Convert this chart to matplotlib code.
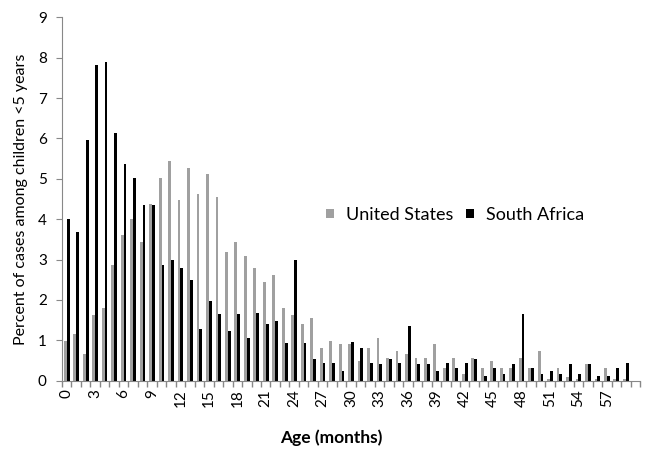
import numpy as np
import matplotlib
matplotlib.use('Agg')
import matplotlib.pyplot as plt

plt.rcParams['font.family'] = ['Lato', 'DejaVu Sans']

# age in months (0-59)
ages = np.arange(60)

us_pct = [0.99, 1.15, 0.65, 1.63, 1.79, 2.86, 3.60, 4.01, 3.43, 4.37,
          5.03, 5.43, 4.47, 5.27, 4.63, 5.12, 4.54, 3.19, 3.43, 3.10,
          2.78, 2.45, 2.62, 1.79, 1.63, 1.40, 1.56, 0.82, 0.99, 0.90,
          0.90, 0.49, 0.82, 1.06, 0.57, 0.74, 0.65, 0.57, 0.57, 0.90,
          0.32, 0.57, 0.16, 0.57, 0.32, 0.49, 0.32, 0.32, 0.57, 0.32,
          0.74, 0.03, 0.32, 0.08, 0.03, 0.41, 0.03, 0.32, 0.03, 0.03]

sa_pct = [4.01, 3.68, 5.95, 7.81, 7.90, 6.13, 5.36, 5.03, 4.34, 4.34,
          2.86, 2.99, 2.79, 2.49, 1.27, 1.97, 1.64, 1.23, 1.64, 1.06,
          1.68, 1.40, 1.48, 0.94, 2.99, 0.94, 0.54, 0.45, 0.45, 0.25,
          0.95, 0.82, 0.45, 0.41, 0.54, 0.45, 1.35, 0.41, 0.41, 0.24,
          0.45, 0.32, 0.45, 0.53, 0.12, 0.32, 0.17, 0.41, 1.64, 0.32,
          0.16, 0.24, 0.16, 0.41, 0.16, 0.41, 0.12, 0.12, 0.32, 0.45]

label_ages = list(range(0, 58, 3))

fig = plt.figure(figsize=(6.48, 4.53), dpi=100)
ax = fig.add_axes([0.0957, 0.1596, 0.8920, 0.8022])

w = 0.3
ax.bar(ages - w / 2, us_pct, width=w, color='#a0a0a0', label='United States')
ax.bar(ages + w / 2, sa_pct, width=w, color='#000000', label='South Africa')

ax.set_xlim(-0.5, 60.5)
ax.set_ylim(0, 9)
ax.set_yticks(range(0, 10))

ax.set_xticks(label_ages)
ax.set_xticklabels([str(a) for a in label_ages], rotation=90, fontsize=11)
ax.set_xticks(np.arange(-0.5, 61, 1), minor=True)
ax.tick_params(axis='x', which='major', length=0, pad=6)
ax.tick_params(axis='x', which='minor', length=4, color='#888888', width=1)
ax.tick_params(axis='y', length=4, color='#888888', labelsize=11, pad=7)

for s in ['top', 'right']:
    ax.spines[s].set_visible(False)
for s in ['left', 'bottom']:
    ax.spines[s].set_color('#888888')

ax.set_ylabel('Percent of cases among children <5 years', fontsize=11.5)
ax.yaxis.set_label_coords(-0.059, 0.5)
ax.set_xlabel('Age (months)', fontsize=12.5, fontweight='bold', va='center')
ax.xaxis.set_label_coords(0.465, -0.158)

fig.legend(loc='center left', bbox_to_anchor=(326 / 648, 1 - 215 / 453), ncol=2,
           frameon=False, fontsize=13, handlelength=0.45, handleheight=0.45,
           handletextpad=0.65, columnspacing=0.7, borderpad=0, borderaxespad=0)

fig.savefig('out.png', dpi=100)
